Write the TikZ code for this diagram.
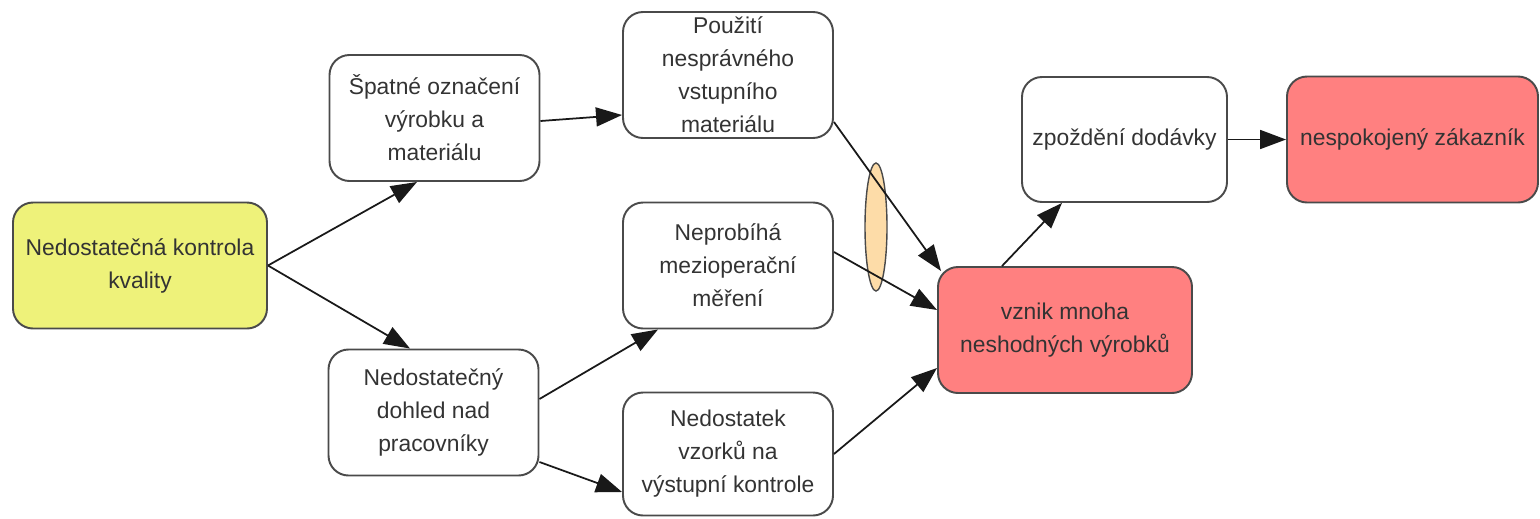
\documentclass[tikz,border=0pt]{standalone}
\usepackage{fontspec}
\setmainfont{Liberation Sans}
\usepackage{tikz}
\usetikzlibrary{arrows.meta,positioning,calc,shapes.geometric}

\definecolor{boxline}{HTML}{4A4A4A}
\definecolor{causeyellow}{HTML}{EEF27A}
\definecolor{effectred}{HTML}{FF8080}
\definecolor{markpeach}{HTML}{FDDCA8}

\begin{document}
\begin{tikzpicture}[>={Triangle[length=0.52cm,width=0.38cm]}, node distance=1.0cm]
  \tikzstyle{box}=[draw=boxline, line width=1.1pt, rounded corners=0.4cm, align=center, inner sep=0pt,
    minimum width=4.2cm, minimum height=2.52cm, text=black!80, font=\fontsize{13}{18.8}\selectfont]
  \tikzstyle{wide}=[minimum width=5.08cm]
  \tikzstyle{link}=[->, line width=1pt, draw=black!90]
  \useasboundingbox (0,0) rectangle (30.8,-10.36);

  \node[box, wide, fill=causeyellow] (kval) at (2.8,-5.31) {Nedostatečná kontrola\\kvality};
  \node[box] (oznac) at (8.69,-2.36) {Špatné označení\\výrobku a\\materiálu};
  \node[box] (dohled) at (8.67,-8.25) {Nedostatečný\\dohled nad\\pracovníky};
  \node[box] (pouziti) at (14.56,-1.5) {Použití\\nesprávného\\vstupního\\materiálu};
  \node[box] (mereni) at (14.56,-5.31) {Neprobíhá\\mezioperační\\měření};
  \node[box, minimum height=2.46cm] (vzorky) at (14.56,-9.08) {Nedostatek\\vzorků na\\výstupní kontrole};
  \node[box, wide, fill=effectred] (vznik) at (21.3,-6.6) {vznik mnoha\\neshodných výrobků};
  \node[box, minimum width=4.1cm, minimum height=2.5cm] (zpozd) at (22.49,-2.79) {zpoždění dodávky};
  \node[box, minimum width=5.02cm, fill=effectred] (zakaz) at (28.25,-2.79) {nespokojený zákazník};
  \node[ellipse, draw=boxline, line width=0.8pt, fill=markpeach, inner sep=0pt,
    minimum width=0.44cm, minimum height=2.56cm] (mark) at (17.52,-4.54) {};

  \draw[link] (kval.east) -- ([xshift=-0.35cm]oznac.south);
  \draw[link] (kval.east) -- ([xshift=-0.47cm]dohled.north);
  \draw[link] ([yshift=-0.06cm]oznac.east) -- ([yshift=-0.8cm]pouziti.west);
  \draw[link] ([yshift=0.27cm]dohled.east) -- ([xshift=-1.4cm]mereni.south);
  \draw[link] ([yshift=-0.99cm]dohled.east) -- ([yshift=-0.76cm]vzorky.west);
  \draw[link] ([yshift=-0.94cm]pouziti.east) -- ([xshift=0.08cm,yshift=-0.1cm]vznik.north west);
  \draw[link] ([yshift=0.27cm]mereni.east) -- ([yshift=0.4cm]vznik.west);
  \draw[link] (vzorky.east) -- ([yshift=-0.76cm]vznik.west);
  \draw[link] ([xshift=-1.26cm]vznik.north) -- ([xshift=-1.25cm]zpozd.south);
  \draw[link] (zpozd.east) -- (zakaz.west);
\end{tikzpicture}
\end{document}
